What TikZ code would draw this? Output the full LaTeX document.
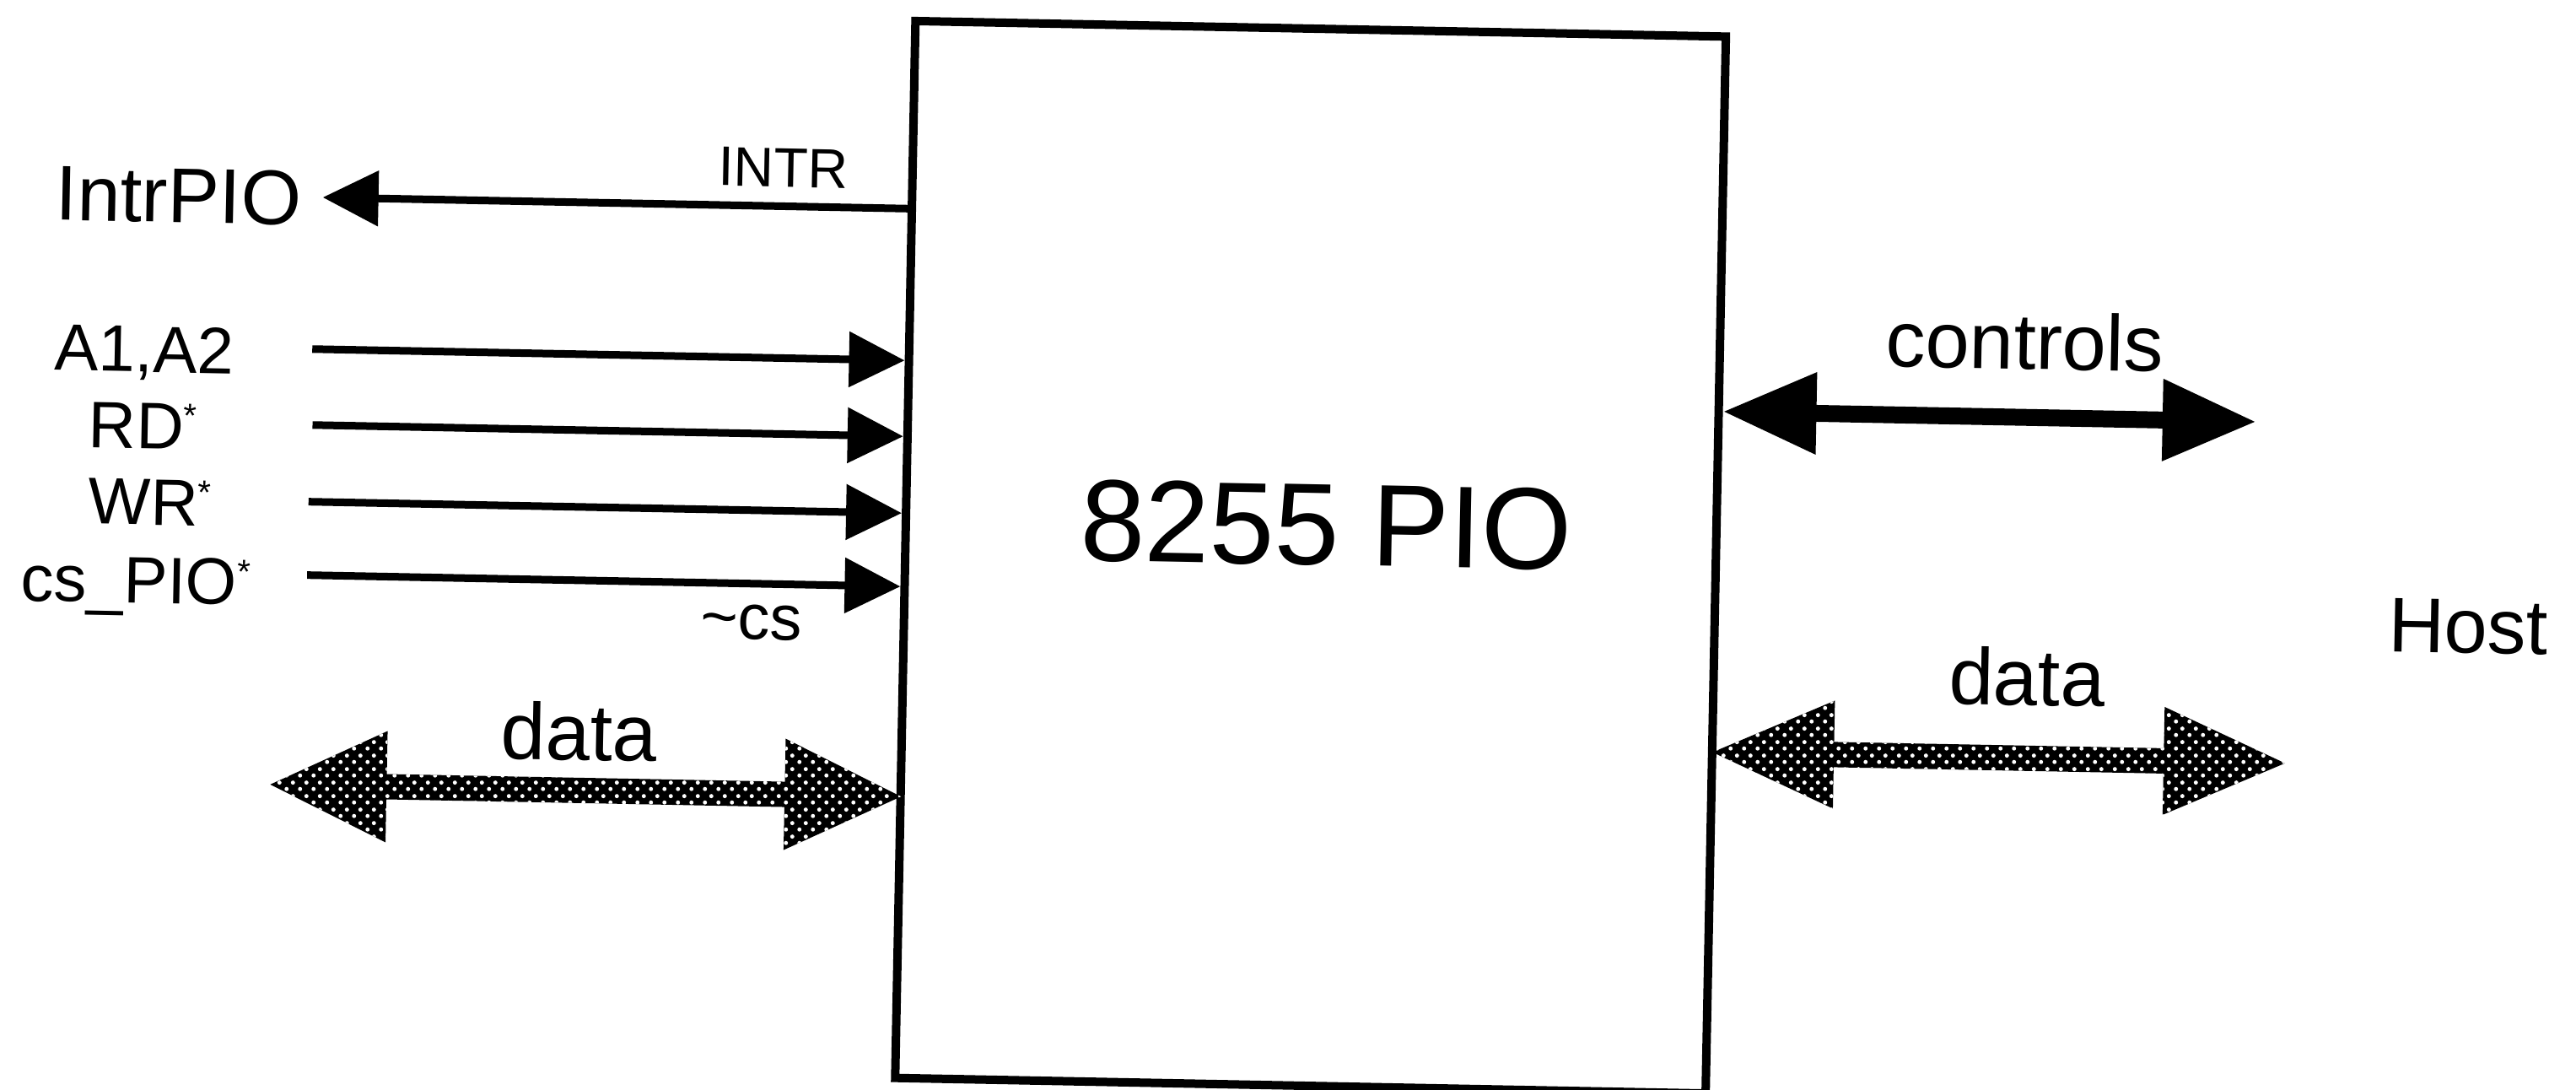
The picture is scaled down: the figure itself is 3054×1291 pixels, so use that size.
\documentclass[tikz,border=0pt]{standalone}
\usepackage{fontspec}
\setmainfont{Liberation Sans}
\usetikzlibrary{arrows.meta,calc,patterns.meta}
\tikzdeclarepattern{
  name=halftone,
  type=uncolored,
  bounding box={(0pt,0pt) and (16pt,16pt)},
  tile size={(16pt,16pt)},
  code={\fill (4pt,4pt) circle (2.6pt); \fill (12pt,12pt) circle (2.6pt);}
}
\newcommand\fsz[1]{\fontsize{#1}{#1}\selectfont}
\begin{document}
\begin{tikzpicture}[x=1pt,y=-1pt,
  lbl/.style={inner sep=0pt, anchor=base},
  sig/.style={line width=9pt, -{Triangle[length=66pt,width=64pt]}},
  ctrl/.style={line width=20pt, {Triangle[length=111pt,width=92pt]}-{Triangle[length=111pt,width=92pt]}},
  bus/.style={preaction={fill=black}, pattern=halftone, pattern color=white},
  chip/.style={draw, line width=10pt, minimum width=961pt, minimum height=1253pt, inner sep=0pt}]
\useasboundingbox (0,0) rectangle (3054,1291);
\begin{scope}[rotate around={-1.1:(1527,645)}, transform shape]
  % the chip
  \node[chip] (pio) at (1554,660) {};
  \node[lbl] (piolbl) at (1572,669) {\fsz{138}8255 PIO};

  % left labels
  \node[lbl] (intrpio) at (204,289) {\fsz{92}IntrPIO};
  \node[lbl] (intrlbl) at (920,233) {\fsz{66}INTR};
  \node[lbl] (a1lbl) at (167,467) {\fsz{78}A1,A2};
  \node[lbl] (rdlbl) at (167,558) {\fsz{78}RD\raisebox{26pt}{\fsz{40}*}};
  \node[lbl] (wrlbl) at (177,648) {\fsz{78}WR\raisebox{26pt}{\fsz{40}*}};
  \node[lbl] (cslbl) at (162,741) {\fsz{78}cs\_PIO\raisebox{26pt}{\fsz{40}*}};
  \node[lbl] (ncslbl) at (893,770) {\fsz{76}\textasciitilde cs};
  \node[lbl] (datalbl) at (691,917) {\fsz{95}data};

  % right labels
  \node[lbl] (ctrllbl) at (2396,421) {\fsz{94}controls};
  \node[lbl] (hostlbl) at (2928,747) {\fsz{92}Host};
  \node[lbl] (datarlbl) at (2406,819) {\fsz{95}data};

  % free ends
  \coordinate (intrEnd) at (375,256);
  \coordinate (a1In) at (366,436);
  \coordinate (rdIn) at (368,526);
  \coordinate (wrIn) at (365,617);
  \coordinate (csIn) at (365,704);
  \coordinate (ctrlEnd) at (2672,478);
  \coordinate (dataL) at (326,953);
  \coordinate (dataR) at (2714,882);

  % signal arrows
  \draw[sig] ($(pio.north west)!(intrEnd)!(pio.south west)$) -- (intrEnd);
  \draw[sig] (a1In) -- ($(pio.north west)!(a1In)!(pio.south west)$);
  \draw[sig] (rdIn) -- ($(pio.north west)!(rdIn)!(pio.south west)$);
  \draw[sig] (wrIn) -- ($(pio.north west)!(wrIn)!(pio.south west)$);
  \draw[sig] (csIn) -- ($(pio.north west)!(csIn)!(pio.south west)$);
  \draw[ctrl] ($(pio.north east)!(ctrlEnd)!(pio.south east)$) -- (ctrlEnd);

  % data buses
  \path[bus] (dataL) -- ++(138,-66) -- ++(0,51) -- ++(472,0) -- ++(0,-51)
     -- ++(138,66) -- ++(-138,66) -- ++(0,-51) -- ++(-472,0) -- ++(0,51) -- cycle;
  \path[bus] (dataR) -- ++(-144,-64) -- ++(0,49) -- ++(-391,0) -- ++(0,-49)
     -- ++(-144,64) -- ++(144,64) -- ++(0,-49) -- ++(391,0) -- ++(0,49) -- cycle;
\end{scope}
\end{tikzpicture}
\end{document}
